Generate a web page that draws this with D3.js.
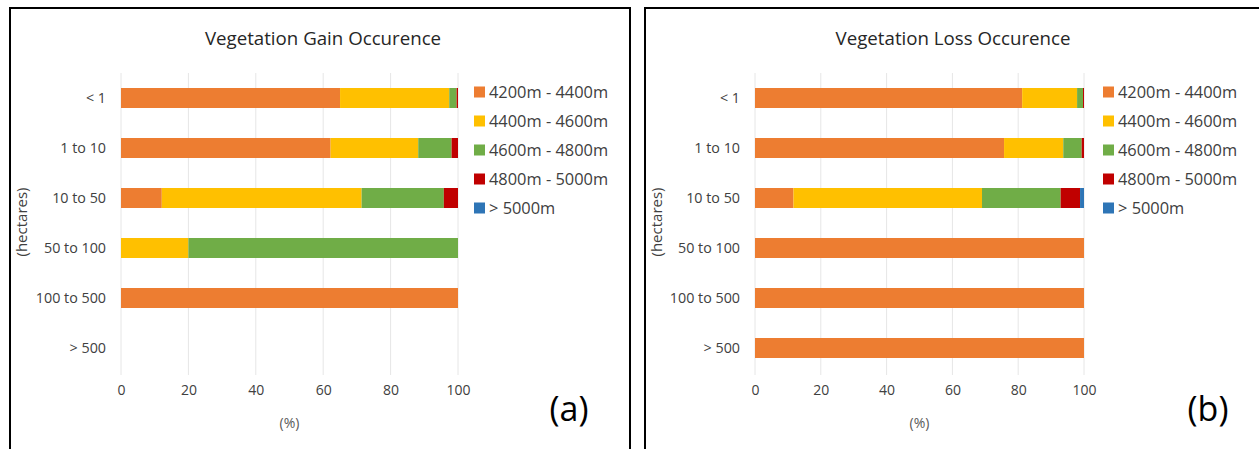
<!DOCTYPE html>
<html>
<head>
<meta charset="utf-8">
<script src="https://cdn.jsdelivr.net/npm/d3@7"></script>
<style>
  body { margin: 0; background: #fff; }
  svg { display: block; font-family: "Open Sans", sans-serif; }
  .tick line, .domain { display: none; }
</style>
</head>
<body>
<script>
//data (percent of patches per size class)
var sizeClasses = ["< 1", "1 to 10", "10 to 50", "50 to 100", "100 to 500", "> 500"];
var elevationBands = ["4200m - 4400m", "4400m - 4600m", "4600m - 4800m", "4800m - 5000m", "> 5000m"];
var bandColors = ["#ED7D31", "#FFC000", "#70AD47", "#C00000", "#2E75B6"];
var xTicks = [0, 20, 40, 60, 80, 100];

// gain, one array per elevation band
var gain4200 = [65.0, 62.2, 12.1, 0, 100, 0];
var gain4400 = [32.4, 26.0, 59.3, 20, 0, 0];
var gain4600 = [2.2, 9.9, 24.4, 80, 0, 0];
var gain4800 = [0.4, 1.9, 4.2, 0, 0, 0];
var gain5000 = [0, 0, 0, 0, 0, 0];

// loss
var loss4200 = [81.2, 75.7, 11.7, 100, 100, 100];
var loss4400 = [16.7, 18.0, 57.3, 0, 0, 0];
var loss4600 = [1.8, 5.6, 23.9, 0, 0, 0];
var loss4800 = [0.3, 0.7, 5.9, 0, 0, 0];
var loss5000 = [0, 0, 1.2, 0, 0, 0];

var width = 1259, height = 449;
var font = "'Open Sans', sans-serif";

var svg = d3.select("body").append("svg")
    .attr("width", width)
    .attr("height", height);

svg.append("rect").attr("width", width).attr("height", height).attr("fill", "#fff");

// build rows for d3.stack
function makeRows(series){
    var rows = [];
    for (var i = 0; i < sizeClasses.length; i++){
        var row = {cls: sizeClasses[i]};
        for (var j = 0; j < elevationBands.length; j++){
            row[elevationBands[j]] = series[j][i];
        }
        rows.push(row);
    }
    return rows;
}

function drawPanel(p){
    var g = svg.append("g").attr("transform", "translate(" + p.left + ",0)");

    // panel frame
    g.append("rect")
        .attr("x", 0).attr("y", 8)
        .attr("width", p.frameW).attr("height", 460)
        .attr("fill", "none")
        .attr("stroke", "#000")
        .attr("stroke-width", 2);

    var x = d3.scaleLinear().domain([0, 100]).range([p.x0, p.x1]);
    var y = d3.scaleBand().domain(sizeClasses).range([73, 373]).paddingInner(0.6).paddingOuter(0.3);

    // gridlines
    g.append("g").selectAll("line")
        .data(xTicks)
        .enter().append("line")
        .attr("x1", function(d){ return x(d); })
        .attr("x2", function(d){ return x(d); })
        .attr("y1", 73).attr("y2", 375)
        .attr("stroke", "#e6e6e6")
        .attr("stroke-width", 1);

    var stacked = d3.stack().keys(elevationBands)(makeRows(p.series));

    g.append("g").selectAll("g")
        .data(stacked)
        .enter().append("g")
        .attr("fill", function(d, i){ return bandColors[i]; })
        .selectAll("rect")
        .data(function(d){ return d; })
        .enter().append("rect")
        .attr("x", function(d){ return x(d[0]); })
        .attr("y", function(d){ return y(d.data.cls); })
        .attr("width", function(d){ return Math.max(0, x(d[1]) - x(d[0])); })
        .attr("height", y.bandwidth());

    // category labels
    g.append("g")
        .attr("transform", "translate(" + (p.x0 - 15) + ",0)")
        .call(d3.axisLeft(y).tickSize(0).tickPadding(0))
        .call(function(a){ a.attr("font-size", null).attr("font-family", null); })
        .selectAll("text")
        .style("font-size", "14.3px")
        .attr("fill", "#404040");

    // x tick labels
    g.append("g")
        .attr("transform", "translate(0,385)")
        .call(d3.axisBottom(x).tickValues(xTicks).tickSize(0).tickPadding(0))
        .call(function(a){ a.attr("font-size", null).attr("font-family", null); })
        .selectAll("text")
        .style("font-size", "14px")
        .attr("fill", "#404040");

    g.append("text")
        .attr("x", (p.x0 + p.x1) / 2).attr("y", 428)
        .attr("text-anchor", "middle")
        .style("font-size", "14px")
        .attr("fill", "#595959")
        .text("(%)");

    g.append("text")
        .attr("transform", "translate(" + p.yLabX + ",222) rotate(-90)")
        .attr("text-anchor", "middle")
        .style("font-size", "15px")
        .attr("fill", "#404040")
        .text("(hectares)");

    g.append("text")
        .attr("x", p.titleX).attr("y", 45)
        .attr("text-anchor", "middle")
        .style("font-size", "18.7px")
        .attr("fill", "#262626")
        .text(p.title);

    g.append("text")
        .attr("x", p.tagX).attr("y", 421)
        .attr("text-anchor", "middle")
        .style("font-size", "34px")
        .attr("fill", "#000")
        .text(p.tag);

    // legend
    var leg = g.append("g").selectAll("g")
        .data(elevationBands)
        .enter().append("g")
        .attr("transform", function(d, i){ return "translate(" + p.legX + "," + (92 + i * 29) + ")"; });
    leg.append("rect")
        .attr("x", 0).attr("y", -5.5)
        .attr("width", 11).attr("height", 11)
        .attr("fill", function(d, i){ return bandColors[i]; });
    leg.append("text")
        .attr("x", 15).attr("y", 6)
        .style("font-size", "16.4px")
        .attr("fill", "#404040")
        .text(function(d){ return d; });
}

drawPanel({
    left: 10, frameW: 620,
    x0: 111, x1: 448,
    title: "Vegetation Gain Occurence", titleX: 313,
    tag: "(a)", tagX: 559,
    yLabX: 17, legX: 464,
    series: [gain4200, gain4400, gain4600, gain4800, gain5000]
});

drawPanel({
    left: 645, frameW: 640,
    x0: 110, x1: 439,
    title: "Vegetation Loss Occurence", titleX: 308,
    tag: "(b)", tagX: 563,
    yLabX: 17, legX: 458,
    series: [loss4200, loss4400, loss4600, loss4800, loss5000]
});
</script>
</body>
</html>
